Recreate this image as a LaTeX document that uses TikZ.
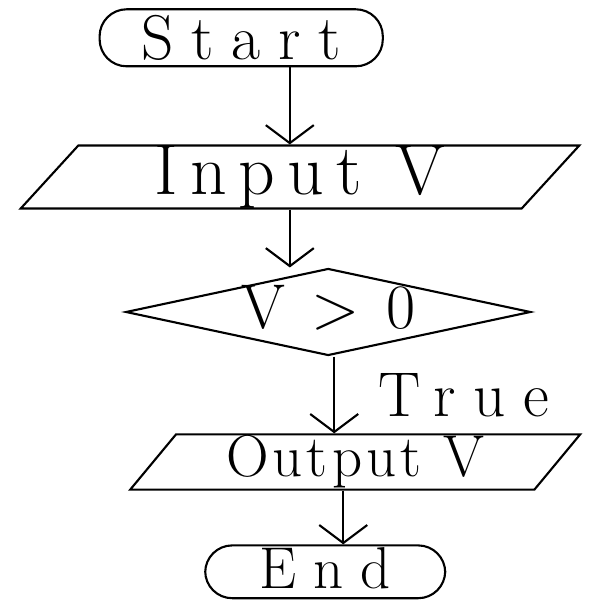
\documentclass[tikz,border=0pt]{standalone}
\usepackage{fontspec}
\usetikzlibrary{positioning, calc, arrows.meta, shapes.geometric}
\newfontfamily\handtight{Latin Modern Roman}[LetterSpace=7]
\newfontfamily\handmid{Latin Modern Roman}[LetterSpace=17]
\newfontfamily\handwide{Latin Modern Roman}[LetterSpace=28]
\newfontfamily\handwider{Latin Modern Roman}[LetterSpace=42]

\begin{document}
\begin{tikzpicture}[
          line width=1pt,
          term/.style={draw, rounded corners=0.45cm, minimum height=0.95cm, inner sep=0pt},
          io/.style={draw, trapezium, trapezium stretches=true, inner sep=0pt},
          cond/.style={draw, diamond, aspect=4.65, inner sep=0pt},
          arr/.style={-{Straight Barb[length=0.3cm, width=0.8cm]}}
        ]
        \useasboundingbox (0,0) rectangle (10,-10);

        \node[term, minimum width=4.72cm, font=\handwide\fontsize{30}{34}\selectfont]
              (start)  at (4.02,-0.63) {Start};
        \node[io, trapezium left angle=59, trapezium right angle=121,
              minimum width=9.33cm, minimum height=1.05cm,
              font=\handmid\fontsize{34}{38}\selectfont]
              (input)  at (5.0,-2.95) {Input V};
        \node[cond, minimum width=6.75cm, minimum height=1.45cm,
              text height=0.6cm, text depth=0.05cm,
              font=\handwider\fontsize{30}{34}\selectfont]
              (check)  at (5.47,-5.2) {V>0};
        \node[io, trapezium left angle=58, trapezium right angle=122,
              minimum width=7.5cm, minimum height=0.92cm,
              font=\handtight\fontsize{28}{32}\selectfont]
              (output) at (5.92,-7.7) {Output V};
        \node[term, minimum width=4.0cm, minimum height=0.88cm,
              text height=0.6cm, text depth=0.05cm,
              font=\handwide\fontsize{28}{32}\selectfont]
              (stop) at (5.42,-9.53) {End};

        \draw[arr] ([xshift=0.81cm]start.south) -- ([xshift=0.81cm]start.south |- input.north);
        \draw[arr] ([xshift=-0.17cm]input.south) -- ([xshift=-0.17cm]input.south |- check.north);
        \draw[arr] ([xshift=0.1cm]check.south) -- ([xshift=0.1cm]check.south |- output.north)
              node[midway, right=0.6cm, font=\handwide\fontsize{30}{34}\selectfont]{True};
        \draw[arr] ([xshift=-0.2cm]output.south) -- ([xshift=-0.2cm]output.south |- stop.north);
      \end{tikzpicture}
\end{document}
